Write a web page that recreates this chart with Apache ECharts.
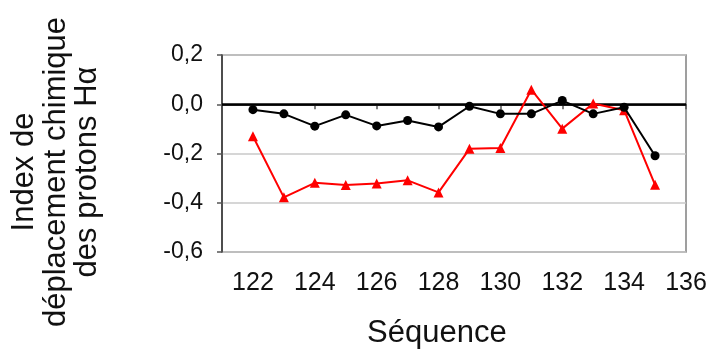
<!DOCTYPE html>
<html>
<head>
<meta charset="utf-8">
<script src="https://cdn.jsdelivr.net/npm/echarts@6/dist/echarts.min.js"></script>
<style>html,body{margin:0;padding:0;background:#fff}#c{width:710px;height:351px}</style>
</head>
<body>
<div id="c"></div>
<script>
const sequence = [122,123,124,125,126,127,128,129,130,131,132,133,134,135];
const blackSeries = [-0.022,-0.039,-0.089,-0.043,-0.088,-0.066,-0.092,-0.008,-0.039,-0.039,0.015,-0.039,-0.012,-0.209];
const redSeries = [-0.13,-0.378,-0.319,-0.328,-0.322,-0.309,-0.358,-0.181,-0.178,0.059,-0.099,0.003,-0.024,-0.327];
const xTicks = [122,124,126,128,130,132,134,136];
const yTicks = [0.2,0,-0.2,-0.4,-0.6];
const xTitle = 'Séquence';
const yTitleLines = ['Index de','déplacement chimique','des protons Hα'];

const font = 'Liberation Sans, Arial, sans-serif';
const chart = echarts.init(document.getElementById('c'));
chart.setOption({
  animation: false,
  grid: {left: 222, right: 24, top: 55, bottom: 99, show: true, borderColor: '#808080', borderWidth: 1.5},
  xAxis: {
    type: 'value', min: 121, max: 136,
    axisLine: {lineStyle: {color: '#333', width: 1.5}},
    axisTick: {show: true, length: 5, customValues: xTicks, lineStyle: {color: '#555', width: 1.5}},
    axisLabel: {customValues: xTicks, color: '#111', fontSize: 25, fontFamily: font, margin: 19},
    splitLine: {show: false}
  },
  yAxis: {
    type: 'value', min: -0.6, max: 0.2, interval: 0.2,
    axisLine: {show: true, lineStyle: {color: '#333', width: 1.5}},
    axisTick: {show: true, length: 5, lineStyle: {color: '#555', width: 1.5}},
    axisLabel: {color: '#111', fontSize: 23, fontFamily: font, margin: 19,
      formatter: v => (Math.abs(v) < 1e-9 ? 0 : v).toFixed(1).replace('.', ',')},
    splitLine: {show: true, lineStyle: {color: '#c8c8c8', width: 1.5}}
  },
  series: [
    {
      type: 'line', data: sequence.map((x, i) => [x, redSeries[i]]),
      symbol: 'triangle', symbolSize: 10, showSymbol: true,
      lineStyle: {color: '#ff0000', width: 2}, itemStyle: {color: '#ff0000'}, z: 3
    },
    {
      type: 'line', data: sequence.map((x, i) => [x, blackSeries[i]]),
      symbol: 'circle', symbolSize: 9, showSymbol: true,
      lineStyle: {color: '#000', width: 2}, itemStyle: {color: '#000'}, z: 4,
      markLine: {silent: true, symbol: 'none', label: {show: false},
        lineStyle: {color: '#000', width: 2.5, type: 'solid'}, data: [{yAxis: 0}], z: 2}
    }
  ],
  graphic: [
    {type: 'text', left: 367, top: 318, style: {text: xTitle, font: '31px ' + font, fill: '#111'}},
    {type: 'text', x: 56, y: 172, rotation: Math.PI / 2,
      style: {text: yTitleLines.join('\n'), font: '31px ' + font, fill: '#111', align: 'center', verticalAlign: 'middle', lineHeight: 31.5}}
  ]
});
</script>
</body>
</html>
